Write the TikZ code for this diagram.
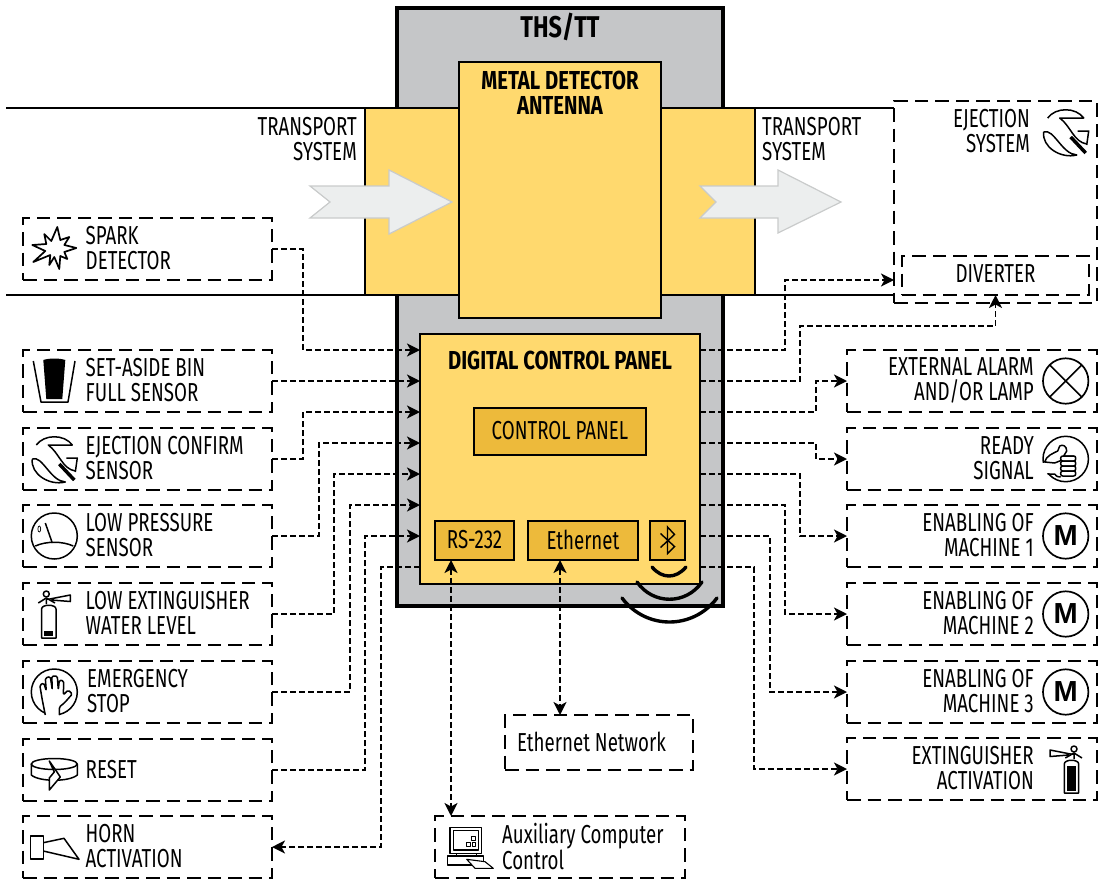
\documentclass[tikz,border=0pt]{standalone}
\usepackage{fontspec}
\setmainfont[FakeStretch=0.72]{Fira Sans}
\newfontfamily\titlefont[FakeStretch=0.78]{Fira Sans}
\newfontfamily\mfont{Liberation Sans}
\usetikzlibrary{arrows.meta,positioning}

\definecolor{plategray}{HTML}{C5C6C8}
\definecolor{plateyellow}{HTML}{FFD96E}
\definecolor{portyellow}{HTML}{EDBA3B}
\definecolor{flowfill}{HTML}{ECEEEE}
\definecolor{flowline}{HTML}{C9CBCB}

\tikzset{
    icon/.style={line width=1.5pt, line join=round},
    pics/sparkicon/.style={code={
        \draw[icon, line width=1.7pt, fill=white] (-10,-15) -- (-3,-8) -- (3,-22) -- (6,-9) -- (15,-12) -- (10,-4) -- (22,-1) -- (10,3) -- (13,10) -- (6,7) -- (5,20) -- (0,8) -- (-5,16) -- (-4,6) -- (-21,13) -- (-9,2) -- (-22,-4) -- (-8,-5) -- cycle;
    }},
    pics/binicon/.style={code={
        \draw[icon] (-21,-20) -- (-13.3,21) -- (13.7,21) -- (20.7,-20);
        \fill (-11,-21) .. controls (-5,-23) and (5,-23) .. (11,-21) -- (8,18) -- (-8,18) -- cycle;
    }},
    pics/ejecticon/.style={code={
        \draw[icon] (-18,-14) .. controls (-10,-25) and (10,-25) .. (18,-14) -- (-6,-14) .. controls (5,-6) and (8,10) .. (21,12);
        \draw[icon] (-22,0) .. controls (-12,-4) and (-4,22) .. (11,23) .. controls (-5,27) and (-24,15) .. (-22,0);
        \draw[icon] (12,-1) -- (23,-1) -- (21,13);
        \draw[line width=3.5pt] (5,5) -- (20,21);
    }},
    pics/gaugeicon/.style={code={
        \draw[icon] (0,0) circle (23);
        \draw[icon] (-19,10) .. controls (-8,5) and (8,5) .. (19,10);
        \draw[icon] (-9,-13) -- (-2,7);
        \draw[line width=.7pt] (-15,-7) circle [x radius=1.4, y radius=3];
    }},
    pics/extingicon/.style={code={
        \draw[icon] (-12.7,-5) .. controls (-12.7,-10) and (1.7,-10) .. (1.7,-5) -- (1.7,24) -- (-12.7,24) -- cycle;
        \fill (-10,#1) rectangle (-1,21.5);
        \draw[icon] (-8,-20) circle (3);
        \draw[icon] (-16,-11) -- (-8,-16) -- (0.7,-11);
        \draw[icon] (-8,-10) -- (-8,-15) -- (-4.5,-15) -- (16,-19) -- (16,-12.5) -- (-3,-14);
    }},
    pics/handicon/.style={code={
        \draw[icon] (0,0) circle (23);
        \fill[white] (-9,15) rectangle (5,25);
        \draw[icon, rounded corners=1.5pt, fill=white] (-9,23) -- (-12,8) -- (-14.5,-7) -- (-10.5,-9) -- (-8,-1) -- (-9,-14) -- (-4,-15.5) -- (-2,-2) -- (-2.5,-16) -- (3,-16) -- (4,-2) -- (5,-12) -- (9.5,-11) -- (9,3) -- (14,-2) -- (18,2) -- (10,11) -- (5,15) -- (5,23);
    }},
    pics/reseticon/.style={code={
        \draw[icon, fill=white] (-23,-6) -- (-23,5) .. controls (-15,12) and (15,12) .. (23,5) -- (23,-6);
        \draw[icon, fill=white] (0,-6) circle [x radius=23, y radius=5.5];
        \draw[icon, fill=white] (-5,-9) -- (0,2) -- (-5,8) -- (-5,20) -- (6,7) -- (2,1) -- cycle;
    }},
    pics/hornicon/.style={code={
        \draw[icon] (-23.6,-11) rectangle (-11,12);
        \draw[icon] (-11,-4.3) -- (9.7,-8.7) -- (24.7,12.3) -- (-11,4);
    }},
    pics/lampicon/.style={code={
        \draw[line width=1.7pt] (0,0) circle (22.7);
        \draw[line width=1.7pt] (-16,-16) -- (16,16) (-16,16) -- (16,-16);
    }},
    pics/thumbicon/.style={code={
        \draw[icon] (0,0) circle (22.7);
        \fill[white] (-25,4) rectangle (-14,14);
        \draw[icon, fill=white] (-21,3) .. controls (-20,-3) and (-12,-6) .. (-8,-8) -- (-6,-13) .. controls (-3,-15) and (1,-13) .. (1,-8) -- (-2,-3) -- (8,-3) -- (-6,2) -- (-11,4) -- cycle;
        \draw[icon] (-18,15) -- (-11,15) .. controls (-9,18) and (-7,18) .. (-5,18);
        \foreach \y in {-3,2,7,12}
            \draw[icon, fill=white, rounded corners=2pt] (-5,\y) rectangle (10,\y+5);
    }},
    pics/computericon/.style={code={
        \draw[icon, line width=1.1pt] (10,7.3) rectangle (41.7,33.3);
        \draw[icon, line width=1.1pt] (13.3,10.7) rectangle (38.3,30);
        \draw[icon, line width=.8pt] (31.7,16.7) rectangle +(3.3,3.3) (26.7,22.7) rectangle +(3.3,3.3) (32.3,22.7) rectangle +(3.3,3.3);
        \draw[icon, line width=1.1pt] (16.7,33.3) rectangle (36.7,36);
        \draw[icon, line width=1.1pt] (7.3,36) rectangle (43.3,45);
        \draw[icon, line width=1.1pt, fill=white] (26.7,39.3) -- (45,41.7) -- (53.3,48.3) -- (35,48.3) -- cycle;
    }},
    pics/btrune/.style={code={
        \draw[line width=1.4pt] (-7,-7) -- (7,6) -- (0,13) -- (0,-13.5) -- (7,-6) -- (-7,7);
    }},
}

\begin{document}
\begin{tikzpicture}[
        x=1pt, y=-1pt,
        font=\fontsize{26}{25}\selectfont,
        plate/.style={draw, line width=1.7pt, inner sep=0pt, outer sep=0pt, fill=plateyellow},
        port/.style={draw, line width=1.5pt, inner sep=0pt, outer sep=0pt, fill=portyellow, minimum height=39pt, text depth=2pt},
        dbox/.style={draw, line width=2pt, dash pattern=on 13.5pt off 7pt, inner sep=0pt, outer sep=0pt},
        lbox/.style={dbox, minimum width=249pt, minimum height=62pt},
        rbox/.style={dbox, minimum width=250pt, minimum height=62pt},
        ltext/.style={align=left, inner sep=0pt, yshift=.7pt},
        rtext/.style={align=right, inner sep=0pt, yshift=.7pt},
        title/.style={inner sep=0pt, align=center, font=\titlefont\bfseries\fontsize{26}{25}\selectfont},
        mcircle/.style={draw, circle, line width=1.7pt, minimum size=45.4pt, inner sep=0pt, outer sep=0pt, font=\mfont\bfseries\fontsize{29}{29}\selectfont},
        sig/.style={line width=1.8pt, dash pattern=on 6pt off 3pt, -{Stealth[length=13pt, width=13pt, inset=3.5pt, sep=0pt]}},
        sigboth/.style={sig, {Stealth[length=13pt, width=13pt, inset=3.5pt, sep=0pt]}-{Stealth[length=13pt, width=13pt, inset=3.5pt, sep=0pt]}},
        flow/.style={draw=flowline, fill=flowfill, line width=1.2pt, line join=miter},
        wave/.style={line width=3.4pt, line cap=round},
    ]
    \useasboundingbox (0,0) rectangle (1103,881);

    % machine body
    \node[draw, line width=4pt, fill=plategray, anchor=north west, minimum width=326pt, minimum height=598pt, outer sep=0pt] (ths) at (397,8) {};
    \node[title, font=\titlefont\bfseries\fontsize{30}{30}\selectfont] (thslabel) at (560,27) {THS/TT};
    \node[plate, fill=plateyellow, anchor=north west, minimum width=390pt, minimum height=187pt] (band) at (365,108) {};
    \draw[line width=1.6pt] (6,108) -- (894,108) (6,295) -- (894,295);
    \draw[flow] (310,186) -- (330,202) -- (310,218) -- (389,218) -- (389,234) -- (452,202) -- (389,170) -- (389,186) -- cycle;
    \draw[flow] (700,186) -- (716,202) -- (700,218) -- (778,218) -- (778,233) -- (841,202) -- (778,170) -- (778,186) -- cycle;
    \node[plate, anchor=north west, minimum width=202pt, minimum height=256pt] (antenna) at (459,62) {};
    \node[title] (antennalabel) at (560,93) {METAL DETECTOR\\ANTENNA};
    \node[plate, anchor=north west, minimum width=280pt, minimum height=250pt] (panel) at (420,334) {};
    \node[title] (panellabel) at (560,360) {DIGITAL CONTROL PANEL};
    \node[port, anchor=north west, minimum width=172pt, minimum height=47pt] (ctrl) at (474,408) {CONTROL PANEL};
    \node[port, anchor=north west, minimum width=79pt] (rs) at (435,521) {RS-232};
    \node[port, anchor=north west, minimum width=110pt] (eth) at (528,521) {Ethernet};
    \node[port, anchor=north west, minimum width=35pt] (bt) at (650,521) {};
    \pic at (bt.center) {btrune};
    \draw[wave] (652,567) .. controls (662,579) and (676,579) .. (686,567);
    \draw[wave] (637,582) .. controls (653,605) and (686,605) .. (702,582);
    \draw[wave] (622,598) .. controls (646,630) and (693,630) .. (717,598);

    % left column
    \node[lbox, anchor=north west] (spark) at (23,218) {};
    \node[lbox, anchor=north west] (bin) at (23,350) {};
    \node[lbox, below=16pt of bin] (confirm) {};
    \node[lbox, below=15pt of confirm] (pressure) {};
    \node[lbox, below=16pt of pressure] (water) {};
    \node[lbox, below=16pt of water] (estop) {};
    \node[lbox, below=16pt of estop] (reset) {};
    \node[lbox, below=15pt of reset] (horn) {};
    \node[ltext, right=62.5pt of spark.west] {SPARK\\DETECTOR};
    \node[ltext, right=62.5pt of bin.west] {SET-ASIDE BIN\\FULL SENSOR};
    \node[ltext, right=62.5pt of confirm.west] {EJECTION CONFIRM\\SENSOR};
    \node[ltext, right=62.5pt of pressure.west] {LOW PRESSURE\\SENSOR};
    \node[ltext, right=62.5pt of water.west] {LOW EXTINGUISHER\\WATER LEVEL};
    \node[ltext, right=64pt of estop.west] {EMERGENCY\\STOP};
    \node[ltext, right=62.5pt of reset.west] {RESET};
    \node[ltext, right=62.5pt of horn.west] {HORN\\ACTIVATION};
    \pic at ([xshift=31.3pt]spark.west) {sparkicon};
    \pic at ([xshift=31.3pt]bin.west) {binicon};
    \pic at ([xshift=31.3pt]confirm.west) {ejecticon};
    \pic at ([xshift=31.3pt]pressure.west) {gaugeicon};
    \pic at ([xshift=31.3pt]water.west) {extingicon=17};
    \pic at ([xshift=31.3pt]estop.west) {handicon};
    \pic at ([xshift=31.3pt]reset.west) {reseticon};
    \pic at ([xshift=31.3pt]horn.west) {hornicon};

    % right column
    \node[dbox, anchor=north west, minimum width=203pt, minimum height=202pt] (eject) at (894,101) {};
    \node[dbox, anchor=north west, minimum width=187pt, minimum height=39pt, text depth=3pt] (diverter) at (902,256) {DIVERTER};
    \node[rbox, anchor=north west] (alarm) at (847,350) {};
    \node[rbox, below=16pt of alarm] (ready) {};
    \node[rbox, below=15pt of ready] (enable1) {};
    \node[rbox, below=16pt of enable1] (enable2) {};
    \node[rbox, below=16pt of enable2] (enable3) {};
    \node[rbox, below=15pt of enable3] (extact) {};
    \node[rtext, anchor=east] (ejectlabel) at (1030,132.2) {EJECTION\\SYSTEM};
    \node[rtext, left=63pt of alarm.east] {EXTERNAL ALARM\\AND/OR LAMP};
    \node[rtext, left=63pt of ready.east] {READY\\SIGNAL};
    \node[rtext, left=63pt of enable1.east] {ENABLING OF\\MACHINE 1};
    \node[rtext, left=63pt of enable2.east] {ENABLING OF\\MACHINE 2};
    \node[rtext, left=63pt of enable3.east] {ENABLING OF\\MACHINE 3};
    \node[rtext, left=63pt of extact.east] {EXTINGUISHER\\ACTIVATION};
    \pic at (1065.7,132) {ejecticon};
    \pic at ([xshift=-31.3pt]alarm.east) {lampicon};
    \pic at ([xshift=-31.3pt]ready.east) {thumbicon};
    \node[mcircle, left=8.6pt of enable1.east] (m1) {M};
    \node[mcircle, left=8.6pt of enable2.east] (m2) {M};
    \node[mcircle, left=8.6pt of enable3.east] (m3) {M};
    \pic[xscale=-1] at ([xshift=-31pt]extact.east) {extingicon=-3};

    % transport labels and bottom boxes
    \node[rtext, anchor=east] (leftbelt) at (357,139.7) {TRANSPORT\\SYSTEM};
    \node[ltext, anchor=west] (rightbelt) at (762,139.7) {TRANSPORT\\SYSTEM};
    \node[dbox, anchor=north west, minimum width=188pt, minimum height=55pt] (network) at (505,715) {};
    \node[ltext, right=12pt of network.west] {Ethernet Network};
    \node[dbox, anchor=north west, minimum width=250pt, minimum height=62pt] (aux) at (435,816) {};
    \node[ltext, right=67pt of aux.west] {Auxiliary Computer\\Control};
    \pic at (440,820) {computericon};

    % signal lines
    \foreach \i in {1,...,8} {
        \coordinate (in\i) at (420,350+31*\i-31);
        \coordinate (out\i) at (700,350+31*\i-31);
    }
    \coordinate (divin) at (894,280);
    \draw[sig] (spark.east) -- ++(31,0) |- (in1);
    \draw[sig] (bin.east) -- (in2);
    \draw[sig] (confirm.east) -- ++(31,0) |- (in3);
    \draw[sig] (pressure.east) -- ++(47,0) |- (in4);
    \draw[sig] (water.east) -- ++(62,0) |- (in5);
    \draw[sig] (estop.east) -- ++(78,0) |- (in6);
    \draw[sig] (reset.east) -- ++(93,0) |- (in7);
    \draw[sig] (in8) -- ++(-39,0) |- (horn.east);
    \draw[sig] (out1) -- ++(85,0) |- (divin);
    \draw[sig] (out2) -- ++(100,0) |- (850,326) -| (diverter.south);
    \draw[sig] (out3) -- ++(116,0) |- (alarm.west);
    \draw[sig] (out4) -- ++(116,0) |- (ready.west);
    \draw[sig] (out5) -- ++(100,0) |- (enable1.west);
    \draw[sig] (out6) -- ++(85,0) |- (enable2.west);
    \draw[sig] (out7) -- ++(70,0) |- (enable3.west);
    \draw[sig] (out8) -- ++(54,0) |- (extact.west);
    \draw[sigboth] ([xshift=16pt]rs.south west) -- ([xshift=16pt]rs.south west |- aux.north);
    \draw[sigboth] ([xshift=32pt]eth.south west) -- ([xshift=32pt]eth.south west |- network.north);
\end{tikzpicture}
\end{document}
